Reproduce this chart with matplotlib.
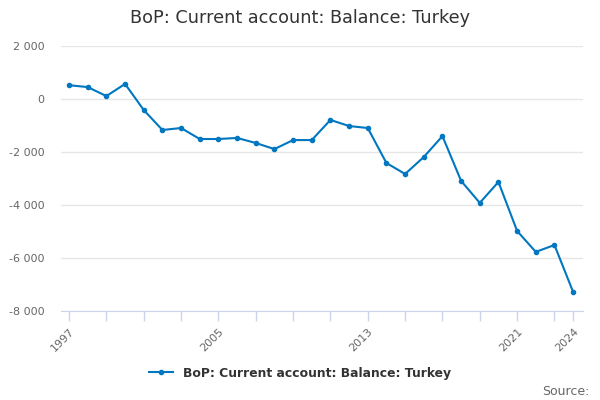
import numpy as np
import matplotlib.pyplot as plt
from matplotlib.ticker import FuncFormatter

years = list(range(1997, 2025))
balance = [520, 450, 110, 570, -415, -1170, -1095, -1510, -1510, -1470,
           -1660, -1890, -1550, -1550, -790, -1020, -1095, -2415, -2830, -2190,
           -1400, -3090, -3920, -3130, -4980, -5770, -5510, -7280]
series_name = "BoP: Current account: Balance: Turkey"
label_years = [1997, 2005, 2013, 2021, 2024]

line_color = "#0077c0"
grid_color = "#e6e6e6"
axis_color = "#ccd6eb"

fig = plt.figure(figsize=(6, 4), dpi=100)
ax = fig.add_axes([0.1017, 0.2225, 0.8703, 0.6625])

ax.plot(years, balance, color=line_color, lw=1.5, marker="o", ms=3,
        label=series_name)

ax.set_ylim(-8000, 2000)
ax.set_yticks(np.arange(-8000, 2001, 2000))
ax.yaxis.set_major_formatter(FuncFormatter(lambda v, p: f"{int(v):,}".replace(",", " ")))
ax.grid(axis="y", color=grid_color, lw=1)
ax.set_axisbelow(True)

ax.set_xlim(1996.57, 2024.54)
minor_ticks = list(range(1997, 2024, 2)) + [2024]
ax.set_xticks(minor_ticks, minor=True)
ax.set_xticks(label_years)
ax.set_xticklabels([str(y) for y in label_years], rotation=45, ha="right",
                   rotation_mode="anchor")
ax.tick_params(axis="x", which="both", length=7.5, color=axis_color, width=1,
               labelsize=8, labelcolor="#666666")
ax.tick_params(axis="y", length=0, labelsize=8, labelcolor="#666666", pad=12)

for s in ["top", "right", "left"]:
    ax.spines[s].set_visible(False)
ax.spines["bottom"].set_color(axis_color)

fig.text(0.5, 0.955, series_name, ha="center", va="center", fontsize=12.7,
         color="#333333")
fig.legend(loc="center", bbox_to_anchor=(0.5, 0.067), frameon=False,
           handlelength=2, prop={"weight": "bold", "size": 8.9})
for t in fig.legends[0].get_texts():
    t.set_color("#333333")
fig.text(0.982, 0.022, "Source:", ha="right", va="center", fontsize=9,
         color="#666666")

fig.savefig("out.png", dpi=100)
